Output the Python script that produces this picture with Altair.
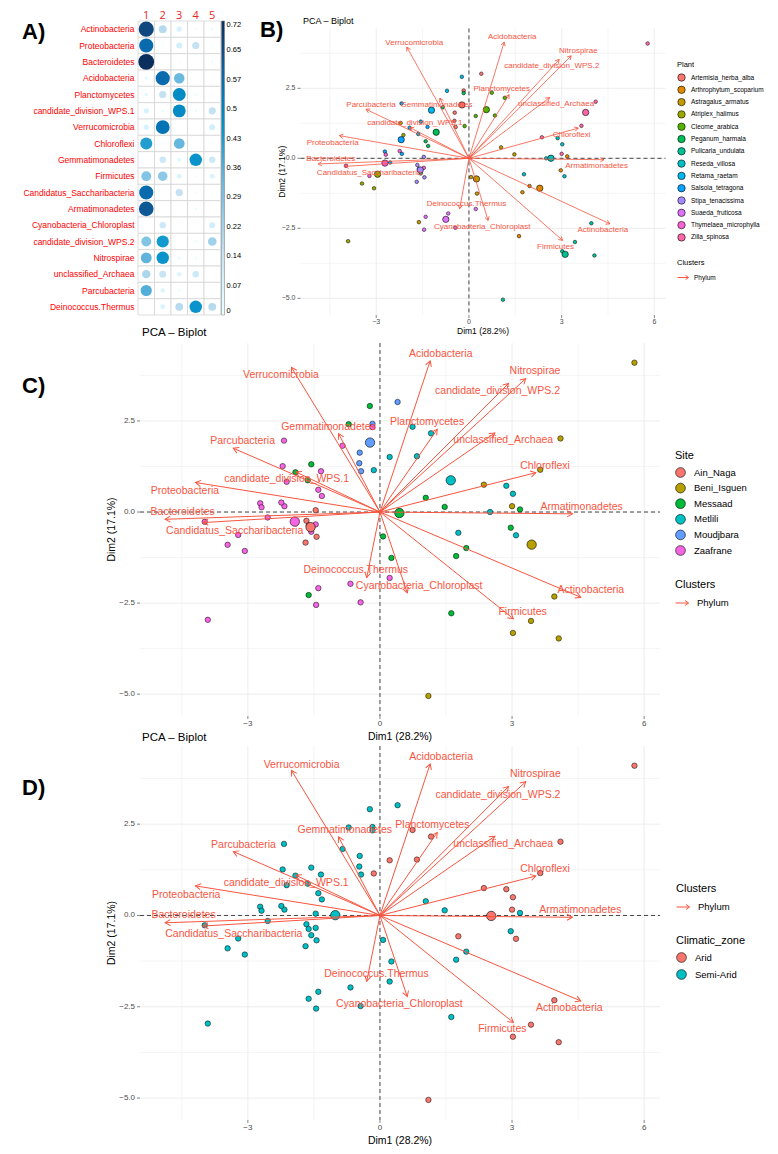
import altair as alt
import pandas as pd

# ------------------------------------------------------------------ Panel A data
phyla = ["Actinobacteria", "Proteobacteria", "Bacteroidetes", "Acidobacteria",
         "Planctomycetes", "candidate_division_WPS.1", "Verrucomicrobia", "Chloroflexi",
         "Gemmatimonadetes", "Firmicutes", "Candidatus_Saccharibacteria", "Armatimonadetes",
         "Cyanobacteria_Chloroplast", "candidate_division_WPS.2", "Nitrospirae",
         "unclassified_Archaea", "Parcubacteria", "Deinococcus.Thermus"]
cluster_ids = ["1", "2", "3", "4", "5"]
cluster_1 = [0.66, 0.58, 0.72, 0.03, 0.04, 0.08, 0.08, 0.42, 0.01, 0.28, 0.58, 0.62, 0.0, 0.28, 0.34, 0.20, 0.36, 0.0]
cluster_2 = [0.18, 0.01, 0.0, 0.58, 0.15, 0.02, 0.55, 0.01, 0.12, 0.26, 0.0, 0.0, 0.12, 0.43, 0.45, 0.14, 0.06, 0.07]
cluster_3 = [0.08, 0.10, 0.01, 0.32, 0.48, 0.48, 0.005, 0.33, 0.05, 0.07, 0.15, 0.0, 0.0, 0.0, 0.03, 0.06, 0.02, 0.18]
cluster_4 = [0.01, 0.15, 0.005, 0.0, 0.02, 0.02, 0.0, 0.0, 0.45, 0.01, 0.01, 0.02, 0.0, 0.02, 0.02, 0.12, 0.0, 0.45]
cluster_5 = [0.02, 0.01, 0.02, 0.0, 0.01, 0.15, 0.10, 0.01, 0.12, 0.07, 0.01, 0.0, 0.10, 0.22, 0.0, 0.0, 0.01, 0.18]
colorbar_labels = ["0", "0.07", "0.14", "0.22", "0.29", "0.36", "0.43", "0.5", "0.57", "0.65", "0.72"]

# ------------------------------------------------------------------ PCA data
plant_names = ["Artemisia_herba_alba", "Arthrophytum_scoparium", "Astragalus_armatus",
               "Atriplex_halimus", "Cleome_arabica", "Peganum_harmala", "Pulicaria_undulata",
               "Reseda_villosa", "Retama_raetam", "Salsola_tetragona", "Stipa_tenacissima",
               "Suaeda_fruticosa", "Thymelaea_microphylla", "Zilla_spinosa"]
plant_colors = ["#F8766D", "#E38900", "#C49A00", "#99A800", "#53B400", "#00BC56", "#00C094",
                "#00BFC4", "#00B6EB", "#06A4FF", "#A58AFF", "#DF70F8", "#FB61D7", "#FF66A8"]
plant_site = ["Moudjbara", "Messaad", "Messaad", "Zaafrane", "Metlili", "Zaafrane", "Beni_Isguen",
              "Metlili", "Messaad", "Zaafrane", "Ain_Naga", "Zaafrane", "Zaafrane", "Beni_Isguen"]
site_names = ["Ain_Naga", "Beni_Isguen", "Messaad", "Metlili", "Moudjbara", "Zaafrane"]
site_colors = ["#F8766D", "#B79F00", "#00BA38", "#00BFC4", "#619CFF", "#F564E3"]
site_zone = ["Semi-Arid", "Arid", "Semi-Arid", "Arid", "Semi-Arid", "Semi-Arid"]
zone_names = ["Arid", "Semi-Arid"]
zone_colors = ["#F8766D", "#00BFC4"]

# 5 samples per plant, in plant_names order
dim1 = [0.40, -0.17, -0.46, -0.47, -0.43,
        1.96, 1.73, 1.62, 3.18, 2.97,
        1.04, 1.47, 0.07, 0.26, -1.62,
        -2.21, -2.12, -3.46, -3.07, -3.91,
        0.74, 1.16, 0.22, 0.84, -0.14,
        -0.17, -0.85, -1.40, -1.32, -1.56,
        3.96, 3.43, 3.02, 4.06, 1.10,
        1.78, 2.87, 3.02, 2.50, 3.09,
        -0.23, -0.71, -1.56, -1.92, -1.64,
        -2.18, -1.34, -2.72, -2.17, -2.55,
        -1.46, -1.67, -1.62, -1.44, -1.69,
        0.22, -0.67, -1.40, -1.45, -0.44,
        -2.69, -2.24, -3.98, -1.46, -3.22,
        2.36, 5.78, 4.10, 3.64, 3.00]
dim2 = [3.02, 2.42, 1.63, 1.34, 1.12,
        -0.99, -1.21, -2.78, 0.07, -0.43,
        0.39, 0.14, -0.67, -1.26, -2.28,
        1.26, 0.83, -0.90, -1.07, -2.96,
        2.34, 2.16, 1.51, 1.53, 1.15,
        2.33, 1.82, 0.61, 0.44, -0.54,
        -2.32, -2.99, -3.32, -3.47, -5.05,
        -0.57, 0.72, 0.50, 0.00, -0.64,
        2.91, 2.41, 1.31, 1.09, 0.87,
        1.96, 1.12, 0.24, 0.16, -0.15,
        0.05, -0.24, -0.37, -0.68, -0.84,
        -1.81, -1.97, -2.09, -2.55, -2.48,
        0.13, 0.26, -0.27, -0.34, -0.63,
        0.75, 4.10, 2.02, 1.16, 0.16]

var_names = ["Acidobacteria", "Verrucomicrobia", "Nitrospirae", "candidate_division_WPS.2",
             "Planctomycetes", "unclassified_Archaea", "Chloroflexi", "Armatimonadetes",
             "Actinobacteria", "Firmicutes", "Cyanobacteria_Chloroplast", "Deinococcus.Thermus",
             "Gemmatimonadetes", "Parcubacteria", "candidate_division_WPS.1", "Proteobacteria",
             "Bacteroidetes", "Candidatus_Saccharibacteria"]
var_dim1 = [1.14, -2.01, 3.31, 2.92, 1.30, 2.61, 3.54, 4.37, 4.56, 3.03, 0.62, -0.30, -0.94, -3.33, -1.91, -4.19, -4.88, -4.02]
var_dim2 = [4.15, 3.97, 3.66, 3.53, 2.27, 2.17, 1.08, -0.05, -2.34, -2.93, -2.22, -1.80, 2.15, 1.75, 1.10, 0.81, -0.20, -0.29]
lab_b_dim1 = [1.40, -1.77, 3.54, 2.68, 1.06, 2.82, 3.32, 4.13, 4.33, 2.80, 0.43, -0.08, -1.05, -3.17, -1.75, -4.41, -4.47, -3.23]
lab_b_dim2 = [4.33, 4.13, 3.83, 3.29, 2.46, 1.94, 0.85, -0.27, -2.56, -3.15, -2.46, -1.63, 1.92, 1.92, 1.26, 0.56, -0.02, -0.54]
lab_c_dim1 = [1.38, -2.25, 3.52, 2.67, 1.07, 2.80, 3.75, 4.58, 4.79, 3.24, 0.89, -0.55, -1.17, -3.12, -2.12, -4.43, -4.48, -3.30]
lab_c_dim2 = [4.35, 3.75, 3.86, 3.31, 2.48, 1.97, 1.26, 0.14, -2.13, -2.74, -2.04, -1.60, 2.34, 1.94, 0.90, 0.59, 0.00, -0.51]
lab_d_dim1 = [1.39, -1.78, 3.53, 2.68, 1.19, 2.80, 3.75, 4.55, 4.30, 2.78, 0.44, -0.08, -0.80, -3.10, -2.13, -4.40, -4.46, -3.32]
lab_d_dim2 = [4.34, 4.13, 3.86, 3.31, 2.49, 1.95, 1.27, 0.14, -2.54, -3.12, -2.42, -1.61, 2.34, 1.93, 0.89, 0.57, 0.00, -0.51]

x_major = [-3, 0, 3, 6]
x_minor = [-4.5, -1.5, 1.5, 4.5]
y_major = [-5.0, -2.5, 0.0, 2.5]
y_minor = [-3.75, -1.25, 1.25, 3.75]
x_domain = [-5.45, 6.36]
y_domain = [-5.6, 4.64]

ARROW_RED = "#F8553F"
LABEL_RED = "#FF0000"
FONT = "Liberation Sans"
HEAD = "M-0.577,1L0,0L0.577,1"
KEY = "M-1,0L1,0M0.45,-0.4L1,0L0.45,0.4"

# ------------------------------------------------------------------ tables
dfA = pd.DataFrame([{"phylum": p, "cluster": c, "value": v}
                    for c, vals in zip(cluster_ids, [cluster_1, cluster_2, cluster_3, cluster_4, cluster_5])
                    for p, v in zip(phyla, vals)])

plant_to_site = dict(zip(plant_names, plant_site))
site_to_zone = dict(zip(site_names, site_zone))
sample_plant = [p for p in plant_names for _ in range(5)]
samples = pd.DataFrame({"dim1": dim1, "dim2": dim2, "Plant": sample_plant})
samples["Site"] = samples["Plant"].map(plant_to_site)
samples["Climatic_zone"] = samples["Site"].map(site_to_zone)

arrows = pd.DataFrame({"name": var_names, "ax": var_dim1, "ay": var_dim2,
                       "bx": lab_b_dim1, "by": lab_b_dim2,
                       "cx": lab_c_dim1, "cy": lab_c_dim2,
                       "dx": lab_d_dim1, "dy": lab_d_dim2, "cl": "Phylum"})


def one_text(s):
    return alt.Chart(pd.DataFrame({"t": [s]}))


# ------------------------------------------------------------------ panel A (corrplot)
cb_values = [round(0.072 * k, 3) for k in range(11)]
cb_expr = "[" + ",".join("'%s'" % s for s in colorbar_labels) + "][round(datum.value / 0.072)]"

xA = alt.X("cluster:N", sort=cluster_ids, axis=None,
           scale=alt.Scale(paddingInner=0, paddingOuter=0, range=[130, 212.5]))
yA = alt.Y("phylum:N", sort=phyla, axis=None,
           scale=alt.Scale(paddingInner=0, paddingOuter=0, range=[13, 307]))
cells = alt.Chart(dfA).mark_rect(fill="white", stroke="#D4D4D4", strokeWidth=0.8).encode(x=xA, y=yA)
bubbles = alt.Chart(dfA).mark_circle(opacity=1).encode(
    x=xA, y=yA,
    size=alt.Size("value:Q", scale=alt.Scale(domain=[0, 0.72], range=[0, 250]), legend=None),
    color=alt.Color("value:Q",
                    scale=alt.Scale(domain=[0, 0.14, 0.29, 0.43, 0.58, 0.72],
                                    range=["#FFFFFF", "#C9E4F2", "#7CC2E3", "#119ACF", "#0A6AAE", "#0A2F5C"]),
                    legend=alt.Legend(orient="none", legendX=213.5, legendY=13, direction="vertical",
                                      gradientLength=294, gradientThickness=3, title=None,
                                      values=cb_values, labelExpr=cb_expr, labelFontSize=7.5,
                                      labelOffset=2, gradientStrokeColor="#777777",
                                      gradientStrokeWidth=0.5, labelBaseline="middle",
                                      labelOverlap=False, padding=0)))
row_labels = alt.Chart(pd.DataFrame({"phylum": phyla})).mark_text(
    align="right", baseline="middle", fontSize=8.5, color=LABEL_RED, font=FONT
).encode(y=yA, x=alt.value(126.5), text="phylum:N")
col_labels = alt.Chart(pd.DataFrame({"cluster": cluster_ids})).mark_text(
    align="center", baseline="middle", fontSize=11, color="#E8261E", font="Open Sans"
).encode(x=xA, y=alt.value(7.5), text="cluster:N")
letterA = one_text("A)").mark_text(align="left", baseline="top", fontSize=22, fontWeight="bold",
                                   font=FONT, color="black").encode(text="t:N", x=alt.value(14), y=alt.value(14))
panelA = alt.layer(cells, bubbles, row_labels, col_labels, letterA)


# ------------------------------------------------------------------ PCA panels
def pca_panel(p):
    x0, x1, yt, yb = p["x0"], p["x1"], p["yt"], p["yb"]
    xs = alt.Scale(domain=x_domain, range=[x0, x1], nice=False, zero=False)
    ys = alt.Scale(domain=y_domain, range=[yb, yt], nice=False, zero=False)

    def X(f):
        return alt.X(f + ":Q", scale=xs, axis=None)

    def Y(f):
        return alt.Y(f + ":Q", scale=ys, axis=None)

    layers = []
    # grid
    for vals, sw in ((x_minor, 0.5), (x_major, 0.9)):
        layers.append(alt.Chart(pd.DataFrame({"v": vals})).mark_rule(color="#EBEBEB", strokeWidth=sw)
                      .encode(x=X("v"), y=alt.value(yt), y2=alt.value(yb)))
    for vals, sw in ((y_minor, 0.5), (y_major, 0.9)):
        layers.append(alt.Chart(pd.DataFrame({"v": vals})).mark_rule(color="#EBEBEB", strokeWidth=sw)
                      .encode(y=Y("v"), x=alt.value(x0), x2=alt.value(x1)))
    # axes (ticks, labels, titles)
    tk = p["tick_fs"]
    layers.append(alt.Chart(pd.DataFrame({"v": x_major})).mark_rule(color="#333333", strokeWidth=0.6)
                  .encode(x=X("v"), y=alt.value(yb), y2=alt.value(yb + 3)))
    layers.append(alt.Chart(pd.DataFrame({"v": y_major})).mark_rule(color="#333333", strokeWidth=0.6)
                  .encode(y=Y("v"), x=alt.value(x0 - 3), x2=alt.value(x0)))
    layers.append(alt.Chart(pd.DataFrame({"v": x_major})).mark_text(
        fontSize=tk, color="#4D4D4D", font=FONT, baseline="middle")
        .encode(x=X("v"), y=alt.value(yb + p["xl_off"]), text=alt.Text("v:Q", format=".0f")))
    layers.append(alt.Chart(pd.DataFrame({"v": y_major})).mark_text(
        fontSize=tk, color="#4D4D4D", font=FONT, baseline="middle", align="right")
        .encode(y=Y("v"), x=alt.value(x0 - 5), text=alt.Text("v:Q", format=".1f")))
    layers.append(one_text("Dim1 (28.2%)").mark_text(fontSize=p["axis_fs"], font=FONT, color="black",
                                                     baseline="middle")
                  .encode(text="t:N", x=alt.value((x0 + x1) / 2), y=alt.value(yb + p["xt_off"])))
    layers.append(one_text("Dim2 (17.1%)").mark_text(fontSize=p["axis_fs"], font=FONT, color="black",
                                                     baseline="middle", angle=270)
                  .encode(text="t:N", x=alt.value(x0 - p["yt_off"]), y=alt.value((yt + yb) / 2)))
    # zero lines
    zero = pd.DataFrame({"v": [0.0]})
    layers.append(alt.Chart(zero).mark_rule(color="#333333", strokeWidth=0.9, strokeDash=[4, 3])
                  .encode(x=X("v"), y=alt.value(yt), y2=alt.value(yb)))
    layers.append(alt.Chart(zero).mark_rule(color="#333333", strokeWidth=0.9, strokeDash=[4, 3])
                  .encode(y=Y("v"), x=alt.value(x0), x2=alt.value(x1)))

    g = p["group"]
    fill_leg = alt.Legend(orient="none", legendX=p["fx"], legendY=p["fy"], title=g,
                          titleFontSize=p["leg_title_fs"], titleFontWeight="normal", titleFont=FONT,
                          labelFontSize=p["leg_fs"], labelFont=FONT, symbolType="circle",
                          symbolSize=p["leg_sym"], symbolStrokeColor="black", symbolStrokeWidth=0.6,
                          symbolOpacity=1, rowPadding=p["leg_row"], titlePadding=p["leg_tp"],
                          labelOffset=p["leg_lo"], padding=0)
    fill = alt.Fill(g + ":N", scale=alt.Scale(domain=p["dom"], range=p["cols"]), legend=fill_leg)
    layers.append(alt.Chart(samples).mark_circle(size=p["pt"], stroke="black", strokeWidth=0.5, opacity=1)
                  .encode(x=X("dim1"), y=Y("dim2"), fill=fill))
    layers.append(alt.Chart(samples).transform_aggregate(m1="mean(dim1)", m2="mean(dim2)", groupby=[g])
                  .mark_circle(size=p["cen"], stroke="black", strokeWidth=0.6, opacity=1)
                  .encode(x=X("m1"), y=Y("m2"), fill=fill))

    cl_leg = alt.Legend(orient="none", legendX=p["cx"], legendY=p["cy"], title="Clusters",
                        titleFontSize=p["leg_title_fs"], titleFontWeight="normal", titleFont=FONT,
                        labelFontSize=p["leg_fs"], labelFont=FONT, symbolType=KEY,
                        symbolSize=p["key"], symbolStrokeColor=ARROW_RED, symbolStrokeWidth=1,
                        titlePadding=p["leg_tp"], labelOffset=p["leg_lo"], padding=0)
    col = alt.Color("cl:N", scale=alt.Scale(domain=["Phylum"], range=[ARROW_RED]), legend=cl_leg)
    kx = (x1 - x0) / (x_domain[1] - x_domain[0])
    ky = (yb - yt) / (y_domain[1] - y_domain[0])
    layers.append(alt.Chart(arrows).transform_calculate(z="0").mark_rule(strokeWidth=p["aw"])
                  .encode(x=X("z"), y=Y("z"), x2=alt.X2("ax"), y2=alt.Y2("ay"), color=col))
    layers.append(alt.Chart(arrows)
                  .transform_calculate(ang="(atan2(datum.ax * %f, datum.ay * %f) * 180 / PI + 360) %% 360"
                                       % (kx, ky))
                  .mark_point(shape=HEAD, filled=False, size=p["head"], strokeWidth=p["aw"], opacity=1)
                  .encode(x=X("ax"), y=Y("ay"), angle=alt.Angle("ang:Q", scale=None), color=col))
    lx, ly = p["lab"]
    layers.append(alt.Chart(arrows).mark_text(color=ARROW_RED, fontSize=p["lab_fs"], font=FONT)
                  .encode(x=X(lx), y=Y(ly), text="name:N"))
    layers.append(one_text(p["letter"]).mark_text(
        align="left", baseline="top", fontSize=22, fontWeight="bold", font=FONT, color="black")
        .encode(text="t:N", x=alt.value(p["lpos"][0]), y=alt.value(p["lpos"][1])))
    layers.append(one_text("PCA \u2013 Biplot").mark_text(
        align="left", baseline="middle", fontSize=p["ttl_fs"], font=FONT, color="black")
        .encode(text="t:N", x=alt.value(p["tpos"][0]), y=alt.value(p["tpos"][1])))
    return alt.layer(*layers)


common_big = dict(x0=132, x1=652, pt=30, cen=88, head=110, aw=1.0, lab_fs=10.5, tick_fs=8, axis_fs=10.5,
                  xl_off=8, xt_off=21, yt_off=28, leg_title_fs=11, leg_fs=9.5, leg_sym=95, leg_row=2.6,
                  leg_tp=6, leg_lo=8, key=169, ttl_fs=11.5)

panelB = pca_panel(dict(x0=292.5, x1=657.5, yt=20.4, yb=307.1, pt=13, cen=40, head=56,
                        aw=0.8, lab_fs=8, tick_fs=7, axis_fs=8.5, xl_off=7, xt_off=16, yt_off=19,
                        leg_title_fs=7.5, leg_fs=6.5, leg_sym=55, leg_row=1.3, leg_tp=5, leg_lo=5,
                        key=121, ttl_fs=9,
                        group="Plant", dom=plant_names, cols=plant_colors, fx=669, fy=52.5, cx=669, cy=251,
                        lab=("bx", "by"), letter="B)", lpos=(252, 12), tpos=(295, 13)))
panelC = pca_panel(dict(common_big, yt=335, yb=708,
                        group="Site", dom=site_names, cols=site_colors, fx=667, fy=442, cx=667, cy=571,
                        lab=("cx", "cy"), letter="C)", lpos=(14, 368), tpos=(134, 325)))
panelD = pca_panel(dict(common_big, yt=738, yb=1112, leg_row=4.0,
                        group="Climatic_zone", dom=zone_names, cols=zone_colors, fx=668, fy=927,
                        cx=668, cy=875,
                        lab=("dx", "dy"), letter="D)", lpos=(14, 770), tpos=(134, 730)))

res = dict(x="independent", y="independent", color="independent", fill="independent", size="independent")
chart = (alt.layer(panelA, panelB, panelC, panelD)
         .resolve_scale(**res)
         .properties(width=760, height=1140, padding=0)
         .configure(font=FONT)
         .configure_view(stroke=None))

chart.save("out.html", embed_options={"renderer": "svg", "actions": False})
